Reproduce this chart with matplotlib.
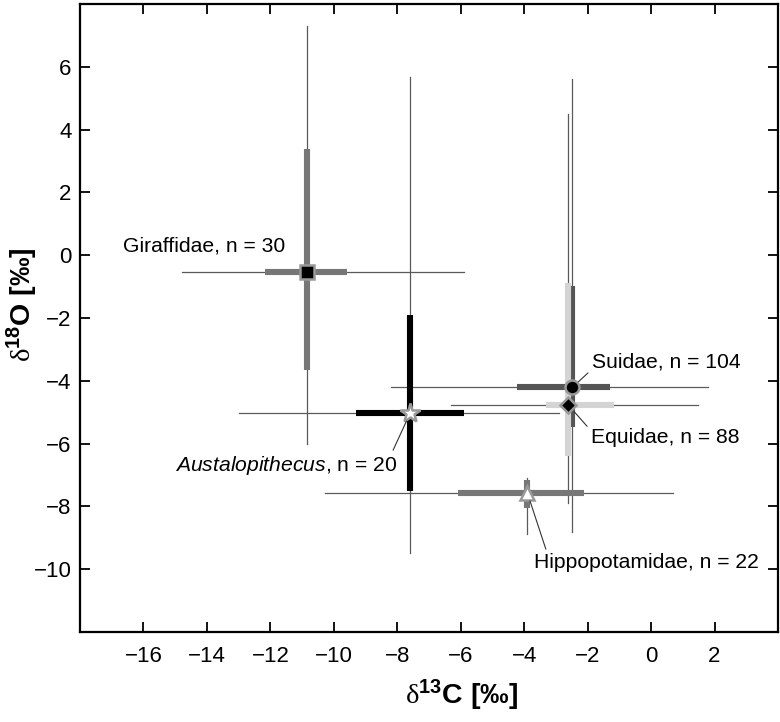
import numpy as np
import matplotlib
matplotlib.use('Agg')
import matplotlib.pyplot as plt

plt.rcParams['font.family'] = ['Liberation Sans', 'DejaVu Sans']
plt.rcParams['mathtext.fontset'] = 'custom'
plt.rcParams['mathtext.rm'] = 'Liberation Serif'
plt.rcParams['mathtext.it'] = 'Liberation Sans:italic'
plt.rcParams['mathtext.bf'] = 'Liberation Sans:bold'

# data (per mille)
groups = ['Giraffidae', 'Austalopithecus', 'Suidae', 'Equidae', 'Hippopotamidae']
n_samples = [30, 20, 104, 88, 22]
c_mean = [-10.86, -7.60, -2.48, -2.61, -3.90]
o_mean = [-0.53, -5.04, -4.21, -4.77, -7.57]
c_min = [-14.79, -12.98, -8.20, -6.32, -10.28]
c_max = [-5.90, -2.90, 1.80, 1.48, 0.70]
c_q1 = [-12.17, -9.31, -4.22, -3.30, -6.09]
c_q3 = [-9.59, -5.90, -1.31, -1.17, -2.12]
o_min = [-6.00, -9.48, -8.81, -7.90, -8.88]
o_max = [7.30, 5.68, 5.60, 4.49, -7.11]
o_q1 = [-3.66, -7.50, -5.46, -6.39, -8.06]
o_q3 = [3.38, -1.89, -0.98, -0.90, -7.16]

bar_colors = ['#777777', '#000000', '#555555', '#d4d4d4', '#777777']
markers = ['s', '*', 'o', 'D', '^']
marker_faces = ['black', 'white', 'black', 'black', 'white']
marker_sizes = [10, 15, 10, 8, 10]

fig = plt.figure(figsize=(7.8, 7.22), dpi=100)
ax = fig.add_axes([80 / 780, 1 - 632 / 722, 698 / 780, 628 / 722])

thin = '#5a5a5a'
for i in range(len(groups)):
    ax.plot([c_min[i], c_max[i]], [o_mean[i], o_mean[i]], color=thin, lw=0.9, zorder=1)
    ax.plot([c_mean[i], c_mean[i]], [o_min[i], o_max[i]], color=thin, lw=0.9, zorder=1)

for i in range(len(groups)):
    ax.plot([c_q1[i], c_q3[i]], [o_mean[i], o_mean[i]], color=bar_colors[i], lw=4.4,
            solid_capstyle='butt', zorder=2)
    ax.plot([c_mean[i], c_mean[i]], [o_q1[i], o_q3[i]], color=bar_colors[i], lw=4.4,
            solid_capstyle='butt', zorder=2)

for i in range(len(groups)):
    ax.plot(c_mean[i], o_mean[i], marker=markers[i], ms=marker_sizes[i],
            mfc=marker_faces[i], mec='#999999', mew=1.8, ls='none', zorder=3)

# labels
fs = 15.2
ax.text(-16.64, 0.11, 'Giraffidae, n = 30', fontsize=fs, ha='left', va='baseline')

leader = dict(arrowstyle='-', color='#333333', lw=0.8, shrinkA=1, shrinkB=6)
lab_pos = {
    'Suidae': (-1.87, -3.57, (0.0, 0.1)),
    'Equidae': (-1.90, -5.97, (0.0, 0.85)),
    'Austalopithecus': (-15.01, -6.88, (0.97, 0.95)),
    'Hippopotamidae': (-3.69, -9.97, (0.06, 0.95)),
}
for i, g in enumerate(groups):
    if g not in lab_pos:
        continue
    x, y, rp = lab_pos[g]
    if g == 'Austalopithecus':
        txt = r'$Austalopithecus$' + ', n = %d' % n_samples[i]
    else:
        txt = '%s, n = %d' % (g, n_samples[i])
    ap = dict(leader, relpos=rp)
    ax.annotate(txt, xy=(c_mean[i], o_mean[i]), xytext=(x, y), textcoords='data',
                fontsize=fs, ha='left', va='baseline', arrowprops=ap, zorder=4)

ax.set_xlim(-18, 4)
ax.set_ylim(-12, 8)
ax.set_xticks(np.arange(-16, 3, 2))
ax.set_yticks(np.arange(-10, 7, 2))
ax.tick_params(direction='in', top=True, right=True, length=7, width=1.3,
               labelsize=16)
ax.tick_params(axis='x', pad=10)
ax.tick_params(axis='y', pad=6)
for s in ax.spines.values():
    s.set_linewidth(1.6)

ax.set_xlabel(r'$\mathrm{\delta}^{\mathbf{13}}$C [‰]', fontsize=20.5, fontweight='bold')
ax.set_ylabel(r'$\mathrm{\delta}^{\mathbf{18}}$O [‰]', fontsize=20.5, fontweight='bold')
ax.xaxis.set_label_coords((461.5 - 80) / 698, -(678 - 632) / 628)
ax.yaxis.set_label_coords(-(80 - 40) / 698, (632 - 305) / 628)

fig.savefig('out.png', dpi=100)
